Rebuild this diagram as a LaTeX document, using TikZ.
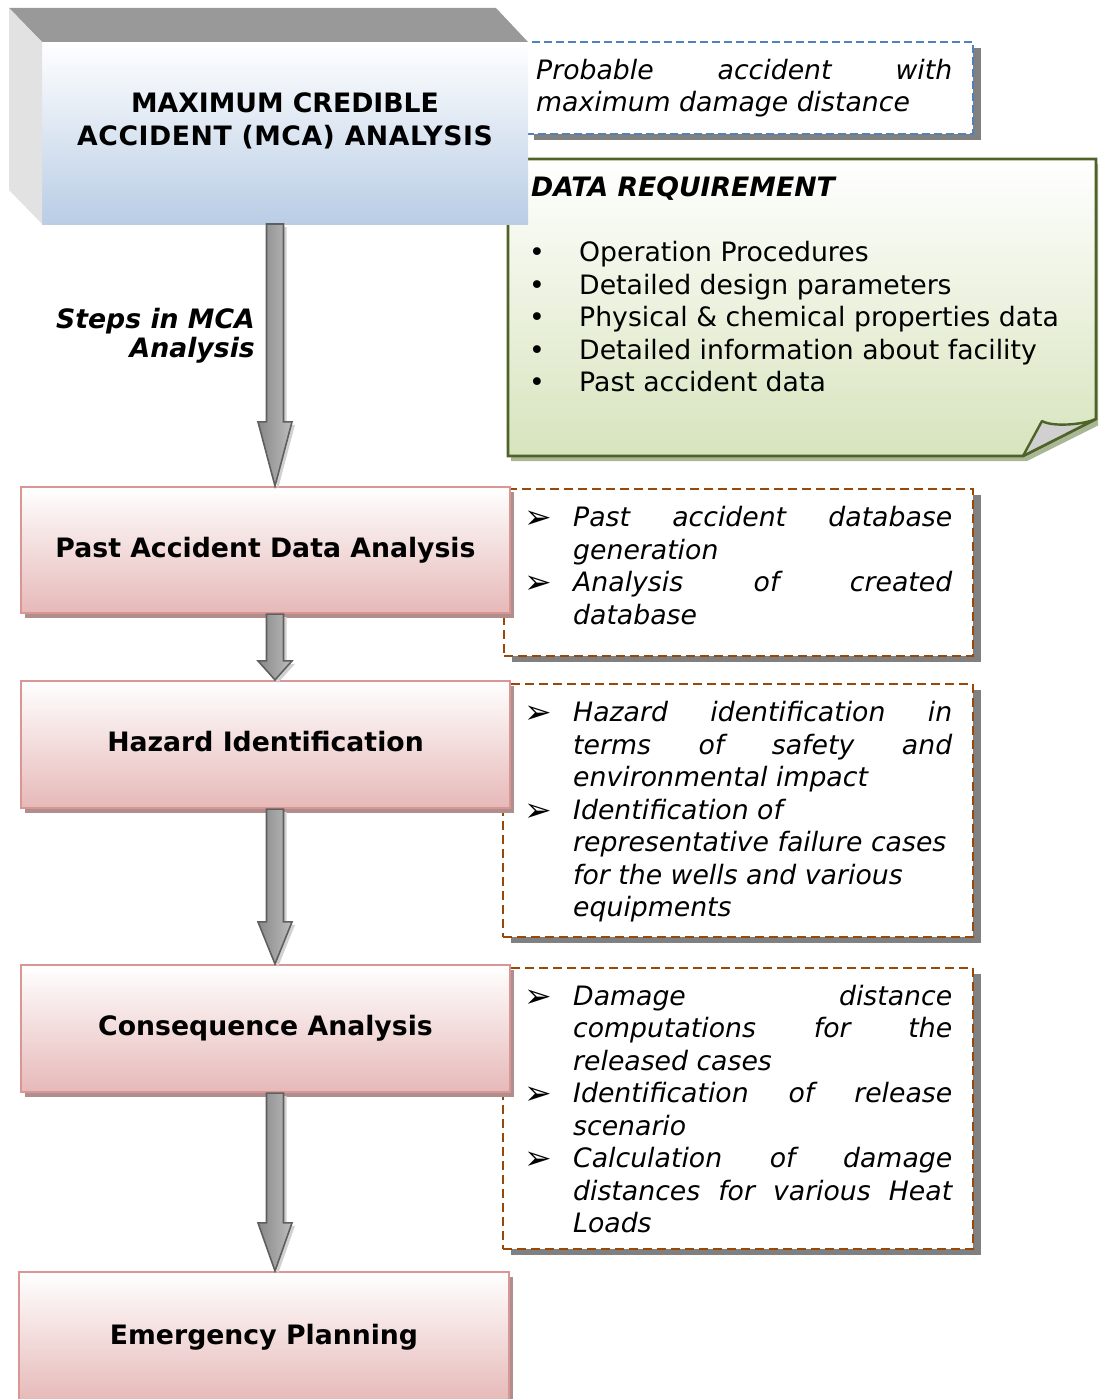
\documentclass[tikz,border=0pt]{standalone}
\usepackage{fontspec}
\setmainfont{DejaVu Sans}
\usetikzlibrary{calc,shadows}
\definecolor{pinkedge}{HTML}{D99694}
\definecolor{pinkbot}{HTML}{E6B9B8}
\definecolor{pinkshadow}{HTML}{B08E8E}
\definecolor{mcablue}{HTML}{B9CDE5}
\definecolor{topgray}{HTML}{999999}
\definecolor{sidegray}{HTML}{E2E2E2}
\definecolor{notegreen}{HTML}{D7E4BD}
\definecolor{noteedge}{HTML}{4F6228}
\definecolor{noteshadow}{HTML}{A9B796}
\definecolor{dashblue}{HTML}{4F81BD}
\definecolor{dashbrown}{HTML}{984807}
\definecolor{boxshadow}{HTML}{808080}
\definecolor{arrowedge}{HTML}{5F5F5F}
\definecolor{arrowdark}{HTML}{888888}
\definecolor{arrowlight}{HTML}{DCDCDC}
\definecolor{arrowmid}{HTML}{BDBDBD}
\definecolor{foldgray}{HTML}{D0D0D0}
\newcommand\fsz{\fontsize{26.7}{32.5}\selectfont}
\newcommand\J[2]{\makebox[#1pt][s]{#2}}
\newcommand\bigarrow[3]{%
  \fill[arrowshadow, transform canvas={shift={(3pt,-3pt)}}] ($(#1)+(-8.5,0)$) -- ($(#1)+(8.5,0)$) -- ($(#2)+(8.5,-#3)$) -- ($(#2)+(17,-#3)$) -- (#2) -- ($(#2)+(-17,-#3)$) -- ($(#2)+(-8.5,-#3)$) -- cycle;
  \draw[fatarrow] ($(#1)+(-8.5,0)$) -- ($(#1)+(8.5,0)$) -- ($(#2)+(8.5,-#3)$) -- ($(#2)+(17,-#3)$) -- (#2) -- ($(#2)+(-17,-#3)$) -- ($(#2)+(-8.5,-#3)$) -- cycle;
}
\begin{document}
\begin{tikzpicture}[x=1pt,y=-1pt,
  stepbox/.style={draw=pinkedge, line width=2.2pt, top color=white, bottom color=pinkbot,
    minimum width=489pt, minimum height=127pt, inner sep=0pt, font=\fsz\bfseries,
    text height=20pt, text depth=6pt,
    drop shadow={shadow xshift=4pt, shadow yshift=-5pt, fill=pinkshadow, opacity=1}},
  dashbox/.style={draw=dashbrown, line width=2pt, dash pattern=on 9pt off 5pt, fill=white,
    inner sep=0pt, drop shadow={shadow xshift=8pt, shadow yshift=-6pt, fill=boxshadow, opacity=1}},
  itline/.style={anchor=base west, inner sep=0pt, font=\fsz\itshape},
  rmline/.style={anchor=base west, inner sep=0pt, font=\fsz},
  bfline/.style={anchor=base, inner sep=0pt, font=\fsz\bfseries},
  arrbullet/.style={anchor=base west, inner sep=0pt, font=\fontsize{33}{36}\selectfont},
  dotbullet/.style={anchor=base, inner sep=0pt, font=\fsz},
  fatarrow/.style={draw=arrowedge, line width=1.6pt, left color=arrowdark, middle color=arrowlight, right color=arrowmid},
  arrowshadow/.style={fill=black!18},
]
\clip (0,0) rectangle (1098,1399);

% ---------- blue dashed note ----------
\node[dashbox, draw=dashblue, dash pattern=on 8pt off 4pt, minimum width=447pt, minimum height=92pt] (prob) at (749.5,88) {};

% ---------- green data requirement note ----------
\fill[noteshadow] (511,164) -- (1101,164) -- (1101,424) -- (1027,461) -- (511,461) -- cycle;
\draw[noteedge, line width=2.8pt, top color=white, bottom color=notegreen]
  (508,159) -- (1096,159) -- (1096,419) -- (1023,456) -- (508,456) -- cycle;
\draw[noteedge, line width=2.4pt, fill=foldgray, line join=round]
  (1023,456) -- (1042,421) .. controls (1052,427) and (1082,425) .. (1096,419) -- cycle;

% ---------- brown dashed notes ----------
\node[dashbox, minimum width=469pt, minimum height=167pt] (br1) at (738.5,572.5) {};
\node[dashbox, minimum width=470pt, minimum height=253pt] (br2) at (738,810.5) {};
\node[dashbox, minimum width=470pt, minimum height=281pt] (br3) at (738,1108.5) {};

% ---------- step boxes ----------
\node[stepbox, minimum height=126pt] (past) at (265.5,550) {Past Accident Data Analysis};
\node[stepbox] (haz) at (265.5,744.5) {Hazard Identification};
\node[stepbox] (cons) at (265.5,1028.5) {Consequence Analysis};
\node[stepbox, minimum width=490pt, minimum height=130pt] (emerg) at (264,1337) {Emergency Planning};

% ---------- 3D title block ----------
\node[minimum width=486pt, minimum height=182pt, inner sep=0pt, outer sep=0pt,
  top color=white, bottom color=mcablue] (mca) at (285,133) {};
\fill[topgray] ($(mca.north west)+(-33,-34)$) -- ($(mca.north east)+(-32,-34)$) -- (mca.north east) -- (mca.north west) -- cycle;
\fill[sidegray] ($(mca.north west)+(-33,-34)$) -- (mca.north west) -- (mca.south west) -- ($(mca.south west)+(-33,-34)$) -- cycle;
\node[bfline] (mcat1) at (285,112.7) {MAXIMUM CREDIBLE};
\node[bfline] (mcat2) at (285,145.7) {\addfontfeatures{LetterSpace=2}ACCIDENT (MCA) ANALYSIS};

% ---------- arrows ----------
\coordinate (ax) at (275,0);
\coordinate (a1s) at (ax |- mca.south);
\coordinate (a1t) at (ax |- past.north);
\coordinate (a2s) at (ax |- past.south);
\coordinate (a2t) at (ax |- haz.north);
\coordinate (a3s) at (ax |- haz.south);
\coordinate (a3t) at (ax |- cons.north);
\coordinate (a4s) at (ax |- cons.south);
\coordinate (a4t) at (ax |- emerg.north);
\bigarrow{a1s}{a1t}{64}
\bigarrow{a2s}{a2t}{19}
\bigarrow{a3s}{a3t}{42}
\bigarrow{a4s}{a4t}{48}

\node[anchor=base east, inner sep=0pt, font=\fsz\bfseries\itshape] (steps1) at (255,328.3) {Steps in MCA};
\node[anchor=base east, inner sep=0pt, font=\fsz\bfseries\itshape] (steps2) at (255,357.3) {Analysis};

% ---------- texts: blue note ----------
\node[itline] (p1) at (536,80) {\J{416}{Probable accident with}};
\node[itline] (p2) at (536,111.7) {maximum damage distance};

% ---------- texts: green note ----------
\node[anchor=base west, inner sep=0pt, font=\fsz\bfseries\itshape] (dr) at (531,196.7) {DATA REQUIREMENT};
\node[dotbullet] (d1b) at (537,261.7) {•};
\node[dotbullet] (d2b) at (537,294.2) {•};
\node[dotbullet] (d3b) at (537,326.7) {•};
\node[dotbullet] (d4b) at (537,359.2) {•};
\node[dotbullet] (d5b) at (537,391.7) {•};
\node[rmline] (d1) at (579,261.7) {Operation Procedures};
\node[rmline] (d2) at (579,294.2) {Detailed design parameters};
\node[rmline] (d3) at (579,326.7) {Physical \& chemical properties data};
\node[rmline] (d4) at (579,359.2) {Detailed information about facility};
\node[rmline] (d5) at (579,391.7) {Past accident data};

% ---------- texts: box 1 ----------
\node[arrbullet] (b1b1) at (524,528.7) {➢};
\node[arrbullet] (b1b2) at (524,593.7) {➢};
\node[itline] (b1l1) at (573,526.7) {\J{379}{Past accident database}};
\node[itline] (b1l2) at (573,559.2) {generation};
\node[itline] (b1l3) at (573,591.7) {\J{379}{Analysis of created}};
\node[itline] (b1l4) at (573,624.2) {database};

% ---------- texts: box 2 ----------
\node[arrbullet] (b2b1) at (524,723.7) {➢};
\node[arrbullet] (b2b2) at (524,821.2) {➢};
\node[itline] (b2l1) at (573,721.7) {\J{379}{Hazard identification in}};
\node[itline] (b2l2) at (573,754.2) {\J{379}{terms of safety and}};
\node[itline] (b2l3) at (573,786.7) {environmental impact};
\node[itline] (b2l4) at (573,819.2) {Identification of};
\node[itline] (b2l5) at (573,851.7) {representative failure cases};
\node[itline] (b2l6) at (573,884.2) {for the wells and various};
\node[itline] (b2l7) at (573,916.7) {equipments};

% ---------- texts: box 3 ----------
\node[arrbullet] (b3b1) at (524,1007) {➢};
\node[arrbullet] (b3b2) at (524,1104.5) {➢};
\node[arrbullet] (b3b3) at (524,1169.5) {➢};
\node[itline] (b3l1) at (573,1005) {\J{379}{Damage distance}};
\node[itline] (b3l2) at (573,1037.5) {\J{379}{computations for the}};
\node[itline] (b3l3) at (573,1070) {released cases};
\node[itline] (b3l4) at (573,1102.5) {\J{379}{Identification of release}};
\node[itline] (b3l5) at (573,1135) {scenario};
\node[itline] (b3l6) at (573,1167.5) {\J{379}{Calculation of damage}};
\node[itline] (b3l7) at (573,1200) {\J{379}{distances for various Heat}};
\node[itline] (b3l8) at (573,1232.5) {Loads};
\end{tikzpicture}
\end{document}
